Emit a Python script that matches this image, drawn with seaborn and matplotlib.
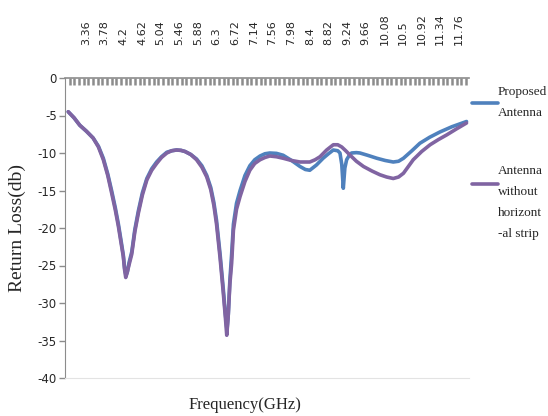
import pandas as pd
import seaborn as sns
from matplotlib import pyplot as plt
from matplotlib.lines import Line2D

# x-axis category labels (GHz), shown along the top
freq_labels = ["3.36", "3.78", "4.2", "4.62", "5.04", "5.46", "5.88", "6.3",
               "6.72", "7.14", "7.56", "7.98", "8.4", "8.82", "9.24", "9.66",
               "10.08", "10.5", "10.92", "11.34", "11.76"]

# Proposed Antenna
f_prop = [2.96, 3.09, 3.22, 3.37, 3.52, 3.64, 3.75, 3.85, 3.94, 4.02, 4.09, 4.15,
          4.20, 4.23, 4.26, 4.29, 4.33, 4.39, 4.46, 4.54, 4.63, 4.73, 4.84, 4.95,
          5.06, 5.18, 5.29, 5.40, 5.50, 5.59, 5.72, 5.85, 5.97, 6.08, 6.17, 6.24,
          6.30, 6.38, 6.45, 6.50, 6.535, 6.565, 6.60, 6.64, 6.68, 6.75, 6.83, 6.94,
          7.05, 7.16, 7.28, 7.39, 7.50, 7.65, 7.80, 7.99, 8.18, 8.30, 8.40, 8.55,
          8.70, 8.82, 8.93, 9.03, 9.08, 9.12, 9.155, 9.19, 9.23, 9.29, 9.34, 9.45,
          9.53, 9.70, 9.91, 10.10, 10.28, 10.40, 10.51, 10.70, 10.88, 11.10, 11.33,
          11.60, 11.93]
rl_prop = [-4.5, -5.3, -6.3, -7.1, -8.0, -9.1, -10.7, -12.8, -15.1, -17.3, -19.5, -21.7,
           -23.6, -25.4, -26.3, -25.9, -24.6, -23.2, -20.2, -17.7, -15.3, -13.4, -12.1, -11.2,
           -10.5, -9.9, -9.7, -9.6, -9.65, -9.8, -10.2, -10.8, -11.7, -13.0, -14.6, -16.6,
           -19.0, -23.5, -28.0, -31.5, -33.6, -31.5, -27.0, -23.5, -19.5, -16.7, -15.0, -13.0,
           -11.7, -10.9, -10.4, -10.1, -10.0, -10.05, -10.3, -11.0, -11.8, -12.2, -12.3, -11.6,
           -10.7, -10.1, -9.6, -9.7, -10.0, -11.5, -14.7, -12.0, -10.9, -10.3, -10.0, -9.95,
           -10.0, -10.3, -10.7, -11.0, -11.2, -11.1, -10.7, -9.7, -8.7, -7.9, -7.2,
           -6.5, -5.8]

# Antenna without horizontal strip
f_nostrip = [2.96, 3.09, 3.22, 3.37, 3.52, 3.64, 3.75, 3.85, 3.94, 4.02, 4.09, 4.15,
             4.20, 4.23, 4.255, 4.28, 4.33, 4.39, 4.46, 4.54, 4.63, 4.73, 4.84, 4.95,
             5.06, 5.18, 5.29, 5.40, 5.50, 5.59, 5.72, 5.85, 5.97, 6.08, 6.17, 6.24,
             6.30, 6.38, 6.45, 6.50, 6.53, 6.56, 6.60, 6.64, 6.68, 6.75, 6.83, 6.94,
             7.05, 7.16, 7.28, 7.39, 7.50, 7.65, 7.80, 7.99, 8.18, 8.40, 8.52, 8.63,
             8.78, 8.93, 9.03, 9.12, 9.21, 9.31, 9.45, 9.61, 9.80, 9.98, 10.13, 10.28,
             10.40, 10.51, 10.62, 10.73, 10.92, 11.11, 11.30, 11.48, 11.70, 11.93]
rl_nostrip = [-4.5, -5.3, -6.3, -7.1, -8.0, -9.2, -10.9, -13.0, -15.4, -17.6, -19.8, -22.0,
              -23.8, -25.6, -26.6, -26.1, -24.9, -23.5, -20.5, -18.0, -15.6, -13.6, -12.3, -11.4,
              -10.6, -10.0, -9.7, -9.6, -9.65, -9.8, -10.2, -10.9, -11.9, -13.2, -14.9, -17.0,
              -19.5, -24.0, -28.5, -32.0, -34.3, -32.0, -27.5, -24.7, -20.3, -17.5, -15.8, -13.8,
              -12.3, -11.4, -10.9, -10.6, -10.4, -10.5, -10.7, -11.0, -11.2, -11.2, -10.9, -10.5,
              -9.6, -8.9, -8.9, -9.2, -9.7, -10.3, -11.1, -11.8, -12.4, -12.9, -13.2, -13.4,
              -13.2, -12.7, -11.8, -10.9, -9.8, -8.9, -8.2, -7.6, -6.8, -6.0]

series_names = ["Proposed\nAntenna", "Antenna\nwithout\nhorizont\n-al strip"]
colors = ["#4F81BD", "#8064A2"]

df = pd.concat([
    pd.DataFrame({"freq": f_prop, "rl": rl_prop, "series": series_names[0]}),
    pd.DataFrame({"freq": f_nostrip, "rl": rl_nostrip, "series": series_names[1]}),
], ignore_index=True)

sns.set_style("white")
plt.rcParams["axes.unicode_minus"] = False
plt.rcParams["font.family"] = ["DejaVu Sans"]

fig = plt.figure(figsize=(5.48, 4.16), dpi=100)
ax = fig.add_axes([65 / 548, 1 - 378 / 416, (469 - 65) / 548, 300 / 416])

sns.lineplot(data=df, x="freq", y="rl", hue="series", hue_order=series_names,
             palette=colors, linewidth=2.6, sort=False, estimator=None,
             legend=False, ax=ax)

ax.set_xlim(2.887, 11.986)
ax.set_ylim(-40, 0)

# category axis on top: labels on major ticks, uniform comb from minor ticks
ax.xaxis.tick_top()
ax.set_xticks([float(v) for v in freq_labels])
ax.set_xticklabels(freq_labels, rotation=90, fontsize=8)
minor = [2.887 + 0.105 * i for i in range(1, 87)]
ax.set_xticks(minor, minor=True)
ax.tick_params(axis="x", which="major", length=0, pad=24, top=True, bottom=False)
ax.tick_params(axis="x", which="minor", direction="in", length=5, width=1.8,
               color="#8c8c8c", top=True, bottom=False)

ax.set_yticks(range(-40, 1, 5))
ax.tick_params(axis="y", direction="out", length=4, width=1, color="#8c8c8c",
               labelsize=8.5, pad=2, left=True)

ax.spines["right"].set_visible(False)
ax.spines["left"].set_color("#8c8c8c")
ax.spines["top"].set_color("#8c8c8c")
ax.spines["top"].set_linewidth(1.2)
ax.spines["bottom"].set_color("#e3e3e3")

ax.set_xlabel("")
ax.set_ylabel("Return Loss(db)", family="Liberation Serif", fontsize=14, labelpad=8)
fig.text(245 / 548, 1 - 405 / 416, "Frequency(GHz)", family="Liberation Serif",
         fontsize=12, ha="center", va="center")

# legend drawn beside the plot, Excel style
legend_line_y = [103, 184]
legend_text_y = [86, 165]
for name, col, ly, ty in zip(series_names, colors, legend_line_y, legend_text_y):
    fig.add_artist(Line2D([472 / 548, 498 / 548], [1 - ly / 416] * 2,
                          transform=fig.transFigure, color=col, linewidth=2.6))
    fig.text(498 / 548, 1 - ty / 416, name, family="Liberation Serif", fontsize=9.5,
             ha="left", va="top", linespacing=2.0)

fig.savefig("out.png", dpi=100)
